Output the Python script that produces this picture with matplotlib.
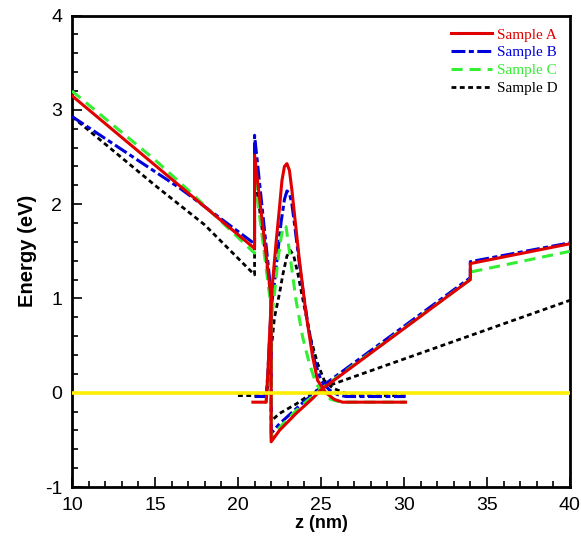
import matplotlib
matplotlib.use('Agg')
import matplotlib.pyplot as plt

# 导带曲线 (z in nm, E in eV)
a_band_z = [10, 21, 21, 22, 22, 22.5, 23, 23.5, 24, 24.5, 25, 34, 34, 40]
a_band_e = [3.15, 1.53, 2.52, 1.0, -0.52, -0.4, -0.31, -0.22, -0.14, -0.06, 0.03, 1.2, 1.37, 1.58]
b_band_z = [10, 16.5, 21, 21, 22, 22, 22.5, 23, 23.5, 24, 24.5, 25, 34, 34, 40]
b_band_e = [2.93, 2.17, 1.58, 2.73, 1.05, -0.43, -0.33, -0.25, -0.17, -0.09, -0.02, 0.06, 1.22, 1.39, 1.59]
c_band_z = [10, 15, 17, 21, 21, 22, 22, 22.5, 23, 23.5, 24, 24.5, 25, 34, 34, 40]
c_band_e = [3.2, 2.47, 2.15, 1.48, 2.3, 0.9, -0.48, -0.37, -0.28, -0.19, -0.11, -0.04, 0.04, 1.2, 1.28, 1.5]
d_band_z = [10, 15, 18, 21, 21, 22, 22, 22.5, 23, 23.5, 24, 24.5, 25, 25.7, 40]
d_band_e = [2.93, 2.2, 1.78, 1.25, 2.35, 1.0, -0.3, -0.22, -0.17, -0.12, -0.06, 0.0, 0.05, 0.09, 0.98]

# 波函数 (偏移到本征能级)
a_wf_z = [20.9, 21.7, 21.8, 21.9, 22.0, 22.1, 22.3, 22.5, 22.65, 22.8, 22.95, 23.1, 23.25, 23.4, 23.7, 24.1, 24.5, 24.8, 25.3, 25.8, 26.3, 30.1]
a_wf_e = [-0.1, -0.1, 0.2, 0.6, 0.95, 1.2, 1.6, 1.96, 2.25, 2.4, 2.43, 2.36, 2.15, 1.9, 1.41, 0.84, 0.38, 0.13, 0.0, -0.07, -0.1, -0.1]
b_wf_z = [21.0, 21.7, 21.8, 21.9, 22.0, 22.2, 22.4, 22.6, 22.8, 22.95, 23.1, 23.25, 23.4, 23.8, 24.2, 24.6, 25.0, 25.5, 26.0, 26.5, 30.1]
b_wf_e = [-0.04, -0.04, 0.2, 0.55, 0.9, 1.17, 1.49, 1.81, 2.05, 2.14, 2.12, 2.0, 1.8, 1.23, 0.74, 0.35, 0.13, 0.03, -0.02, -0.04, -0.04]
c_wf_z = [21.6, 21.7, 21.8, 21.9, 22.0, 22.2, 22.4, 22.6, 22.75, 22.9, 23.1, 23.5, 23.9, 24.3, 24.7, 25.1, 25.6, 26.2, 30.1]
c_wf_e = [-0.1, -0.1, 0.15, 0.45, 0.75, 1.05, 1.4, 1.65, 1.77, 1.76, 1.5, 0.98, 0.59, 0.31, 0.1, 0.0, -0.07, -0.1, -0.1]
d_wf_z = [20.0, 21.7, 21.8, 22.0, 22.2, 22.5, 22.7, 22.95, 23.15, 23.35, 23.6, 24.0, 24.4, 24.8, 25.2, 25.7, 26.4, 27.0, 30.2]
d_wf_e = [-0.03, -0.03, 0.08, 0.45, 0.8, 1.05, 1.25, 1.45, 1.51, 1.46, 1.27, 0.91, 0.56, 0.31, 0.13, 0.05, 0.0, -0.03, -0.03]

labels = ['Sample A', 'Sample B', 'Sample C', 'Sample D']

plt.rcParams['axes.unicode_minus'] = False
plt.rcParams['lines.scale_dashes'] = False

fig = plt.figure(figsize=(5.81, 5.40), dpi=100)
ax = fig.add_axes([0.1239, 0.0981, 0.857, 0.873])

red = '#e00000'
blue = '#0000dd'
green = '#33ee33'
black = '#000000'

ax.plot(a_band_z, a_band_e, color=red, lw=2.2, label=labels[0], zorder=4)
ax.plot(a_wf_z, a_wf_e, color=red, lw=2.2, zorder=4)
ax.plot(b_band_z, b_band_e, color=blue, lw=2.2, dashes=(10, 2.5, 3.6, 2.5), label=labels[1], zorder=3)
ax.plot(b_wf_z, b_wf_e, color=blue, lw=2.2, dashes=(10, 2.5, 3.6, 2.5), zorder=3)
ax.plot(c_band_z, c_band_e, color=green, lw=2.2, dashes=(8, 5), label=labels[2], zorder=3)
ax.plot(c_wf_z, c_wf_e, color=green, lw=2.2, dashes=(8, 5), zorder=3)
ax.plot(d_band_z, d_band_e, color=black, lw=2.0, dashes=(3.5, 2.5), label=labels[3], zorder=2)
ax.plot(d_wf_z, d_wf_e, color=black, lw=2.0, dashes=(3.5, 2.5), zorder=2)

# 零点线
ax.axhline(0, color='#ffee00', lw=2.6, zorder=5)

ax.set_xlim(10, 40)
ax.set_ylim(-1, 4)
ax.set_xticks([10, 15, 20, 25, 30, 35, 40])
ax.set_xticks(range(10, 41), minor=True)
ax.set_yticks([-1, 0, 1, 2, 3, 4])
ax.set_yticks([i * 0.2 - 1 for i in range(26)], minor=True)
ax.tick_params(which='both', direction='in', top=False, right=False, width=1.2,
               labelsize=14, pad=7, labelfontfamily='Liberation Sans')
ax.tick_params(which='major', length=7)
ax.tick_params(which='minor', length=4)
for s in ax.spines.values():
    s.set_linewidth(2)

ax.set_xlabel('z (nm)', fontsize=13, fontweight='bold', family='Liberation Sans', labelpad=1)
ax.set_ylabel('Energy (eV)', fontsize=14.5, fontweight='bold', family='Liberation Sans', labelpad=6)

leg = ax.legend(loc='upper right', frameon=False, labelcolor='linecolor',
                prop={'family': 'Liberation Serif', 'size': 11},
                handlelength=2.7, handletextpad=0.3, labelspacing=0.28,
                borderaxespad=0.5, borderpad=0.3)

fig.savefig('out.png', dpi=100)
